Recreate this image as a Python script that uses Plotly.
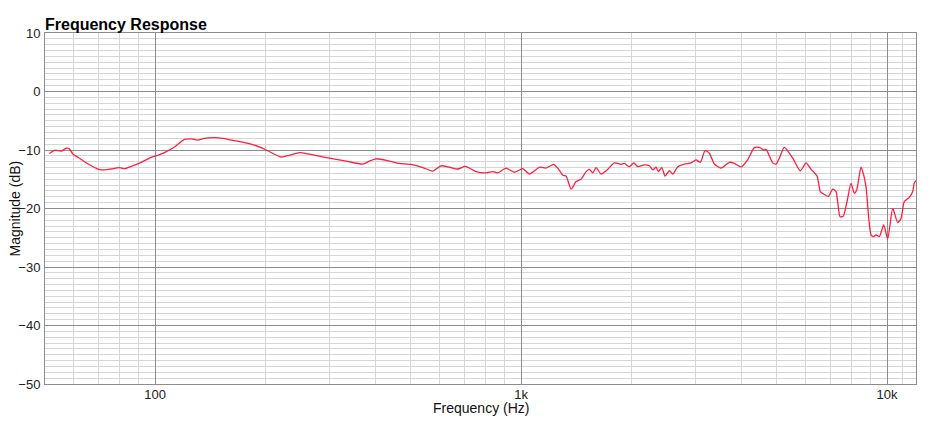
import plotly.graph_objects as go

freq_hz = [51.4, 53.1, 55.4, 57.1, 58.3, 59.6, 61.5, 64.1, 66.9, 69.7, 72.7, 75.8, 79.9, 82.4, 86.0,
           91.6, 97.5, 101.7, 106.0, 112.9, 120.2, 125.4, 130.8, 136.3, 145.2, 153.1, 161.3, 171.8,
           182.9, 194.8, 201.1, 221.0, 232.8, 247.9, 264.1, 299.4, 332.6, 369.4, 385.1, 401.7, 436.7,
           465.1, 500.6, 538.8, 573.8, 604.6, 637.0, 671.5, 704.5, 753.5, 802.5, 837.0, 863.7, 909.9,
           958.8, 1010.7, 1053.6, 1122, 1170, 1228, 1260, 1300, 1327, 1370, 1413, 1458, 1505, 1537,
           1570, 1603, 1654, 1726, 1798, 1876, 1915, 1977, 2032, 2084, 2173, 2242, 2291, 2339, 2373,
           2424, 2475, 2543, 2598, 2681, 2795, 2915, 3008, 3090, 3182, 3269, 3374, 3519, 3709, 3827,
           3992, 4164, 4340, 4480, 4606, 4673, 4872, 4974, 5078, 5240, 5525, 5796, 6008, 6200, 6438,
           6574, 6741, 6912, 7106, 7256, 7441, 7597, 7775, 7973, 8141, 8264, 8491, 8636, 8763, 9043,
           9198, 9331, 9528, 9795, 10044, 10365, 10696, 10921, 11151, 11507, 11756, 11875, 12050]
magnitude_db = [-10.6, -10.05, -10.2, -9.7, -9.8, -10.7, -11.25, -12.0, -12.7, -13.25, -13.4, -13.25,
                -13.0, -13.2, -12.8, -12.1, -11.25, -10.9, -10.45, -9.5, -8.2, -8.1, -8.3, -8.0, -7.9,
                -8.0, -8.3, -8.6, -9.0, -9.6, -10.0, -11.2, -10.9, -10.45, -10.7, -11.4, -11.9, -12.4,
                -11.9, -11.5, -11.9, -12.3, -12.45, -13.0, -13.6, -12.7, -12.95, -13.25, -12.8, -13.7,
                -13.9, -13.7, -13.9, -13.1, -13.8, -13.2, -14.1, -12.95, -13.1, -12.45, -13.1, -14.3,
                -14.45, -16.7, -15.4, -15.0, -13.7, -13.3, -13.9, -13.0, -14.1, -13.3, -12.2, -12.45,
                -12.3, -12.85, -12.2, -12.85, -12.55, -12.7, -13.4, -12.95, -13.7, -13.0, -14.45,
                -13.55, -14.1, -12.85, -12.4, -12.2, -11.7, -12.1, -10.1, -10.55, -12.4, -13.1, -12.1,
                -12.3, -12.9, -11.65, -9.6, -9.55, -10.0, -9.9, -12.2, -12.4, -11.4, -9.55, -11.4,
                -13.55, -12.2, -13.3, -14.45, -17.1, -17.6, -17.95, -16.7, -17.1, -21.4, -21.3, -18.8,
                -15.7, -17.4, -16.8, -12.95, -14.3, -16.3, -24.5, -24.8, -24.5, -24.8, -22.8, -25.2,
                -20.0, -22.4, -21.7, -18.8, -18.1, -17.1, -15.6, -15.2]

x_tick_vals = [100, 1000, 10000]
x_tick_text = ["100", "1k", "10k"]
x_minor_vals = [50, 60, 70, 80, 90, 200, 300, 400, 500, 600, 700, 800, 900,
                2000, 3000, 4000, 5000, 6000, 7000, 8000, 9000, 11000]
y_tick_vals = [10, 0, -10, -20, -30, -40, -50]

FONT = "Liberation Sans, Arial, Helvetica, sans-serif"

fig = go.Figure()
fig.add_trace(go.Scatter(x=freq_hz, y=magnitude_db, mode="lines",
                         line=dict(color="#ff1f3d", width=1.3, shape="spline", smoothing=0.6),
                         showlegend=False, hoverinfo="skip"))

fig.update_layout(
    width=947, height=424,
    margin=dict(l=45, r=31, t=33, b=40, autoexpand=False),
    paper_bgcolor="white", plot_bgcolor="white",
    font=dict(family=FONT, size=13, color="#222222"),
    title=dict(text="<b>Frequency Response</b>", x=45/947, xanchor="left",
               y=1-24/424, yanchor="middle", yref="container",
               font=dict(family=FONT, size=16, color="#000000")),
    annotations=[
        dict(text="Frequency (Hz)", xref="paper", yref="paper", x=0.5, y=-24/351,
             xanchor="center", yanchor="middle", showarrow=False,
             font=dict(family=FONT, size=14, color="#111111")),
        dict(text="Magnitude (dB)", xref="paper", yref="paper", x=-31/871, y=0.5,
             xanchor="center", yanchor="middle", showarrow=False, textangle=-90,
             font=dict(family=FONT, size=14, color="#111111")),
    ],
)

fig.update_xaxes(
    type="log", range=[1.69897, 4.0792], automargin=False,
    tickmode="array", tickvals=x_tick_vals, ticktext=x_tick_text,
    showgrid=True, gridcolor="#8c8c8c", gridwidth=1,
    minor=dict(tickmode="array", tickvals=x_minor_vals, showgrid=True,
               gridcolor="#d6d6d6", gridwidth=1, ticks=""),
    showline=True, linecolor="#8c8c8c", linewidth=1, mirror=True,
    ticks="", zeroline=False, ticklabelstandoff=-2,
    tickfont=dict(size=13, color="#222222"),
)
fig.update_yaxes(
    range=[-50, 10], automargin=False,
    tickmode="array", tickvals=y_tick_vals,
    showgrid=True, gridcolor="#8c8c8c", gridwidth=1,
    minor=dict(dtick=1, showgrid=True, gridcolor="#d6d6d6", gridwidth=1, ticks=""),
    showline=True, linecolor="#8c8c8c", linewidth=1, mirror=True,
    ticks="", zeroline=False, ticklabelstandoff=1,
    tickfont=dict(size=13, color="#222222"),
)

fig.write_html("out.html")
